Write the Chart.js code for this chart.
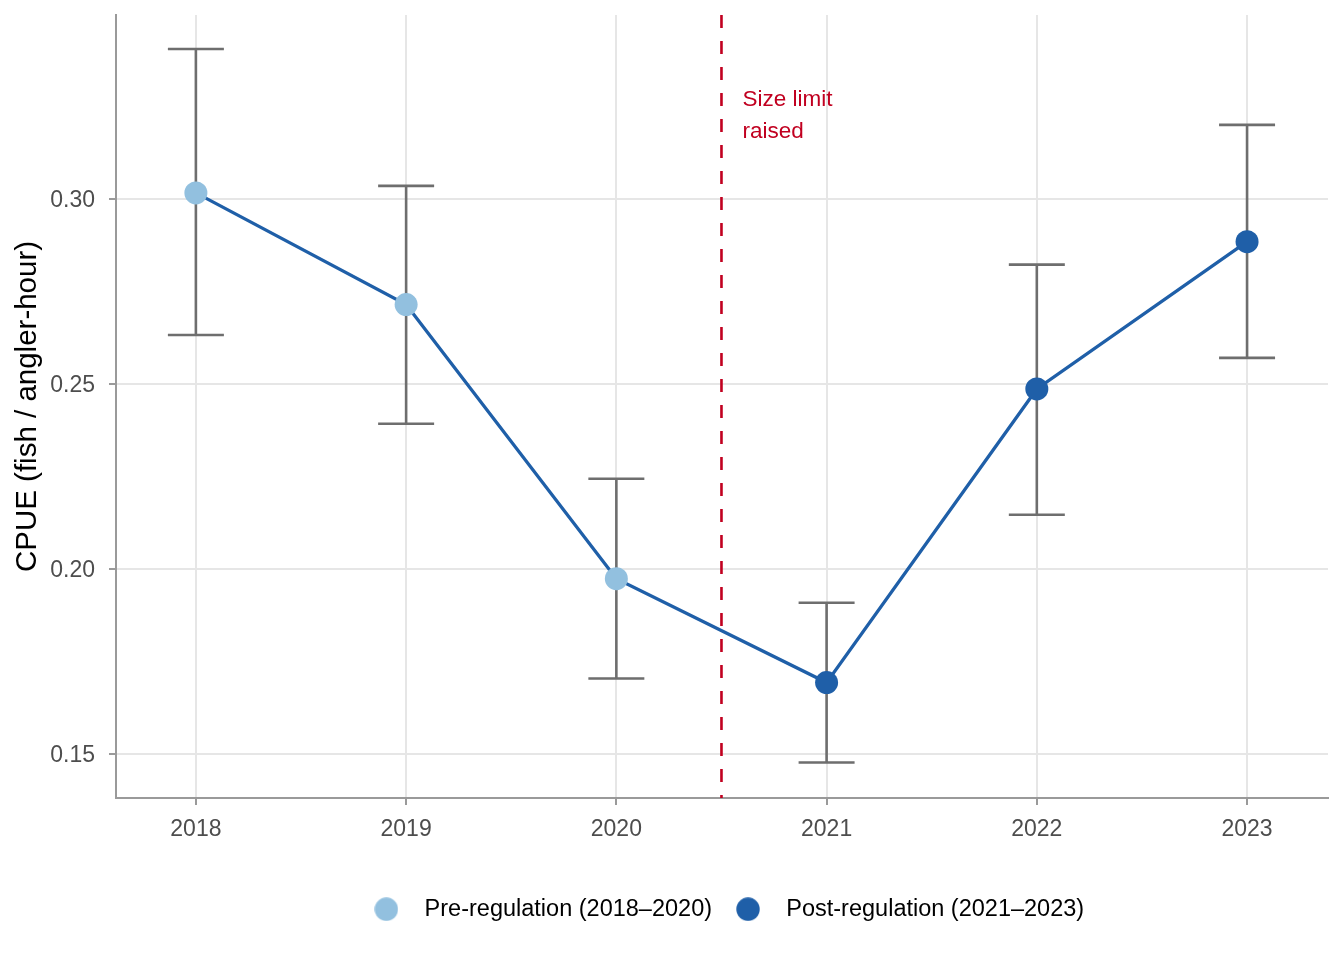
<!DOCTYPE html>
<html>
<head>
<meta charset="utf-8">
<script src="https://cdn.jsdelivr.net/npm/chart.js@4.4.0/dist/chart.umd.min.js"></script>
<style>
  html, body { margin: 0; padding: 0; background: #fff; }
  #wrap { width: 1344px; height: 960px; }
</style>
</head>
<body>
<div id="wrap"><canvas id="plot" width="1344" height="960"></canvas></div>
<script>
// data
const years = ['2018', '2019', '2020', '2021', '2022', '2023'];
const cpue = [0.3016, 0.2714, 0.1973, 0.1692, 0.2486, 0.2884];
const upper = [0.3405, 0.3035, 0.2243, 0.1908, 0.2822, 0.3200];
const lower = [0.2632, 0.2392, 0.1703, 0.1476, 0.2146, 0.2570];
const period = ['pre', 'pre', 'pre', 'post', 'post', 'post'];
const yTicks = [0.15, 0.20, 0.25, 0.30];
const regulationAt = 2.5; // between 2020 and 2021
const noteLines = ['Size limit', 'raised'];
const noteY = 0.3268;

const lightBlue = '#92C0DF';
const darkBlue = '#1F5FA8';
const red = '#C10020';
const font = '"Liberation Sans", Arial, sans-serif';

const prePts = [], postPts = [];
cpue.forEach((v, i) => {
    (period[i] === 'pre' ? prePts : postPts).push({ x: i, y: v });
});

// small canvas used as legend dot
function dot(color) {
    const c = document.createElement('canvas');
    c.width = 24; c.height = 24;
    const g = c.getContext('2d');
    g.fillStyle = color;
    g.beginPath();
    g.arc(12, 12, 11.7, 0, Math.PI * 2);
    g.fill();
    return c;
}

// error bars + regulation line + note
const extras = {
    id: 'extras',
    beforeDatasetsDraw(chart) {
        const { ctx, chartArea, scales: { x, y } } = chart;
        ctx.save();
        ctx.strokeStyle = '#6E6E6E';
        ctx.lineWidth = 2.6;
        cpue.forEach((v, i) => {
            const px = x.getPixelForValue(i);
            const top = y.getPixelForValue(upper[i]);
            const bot = y.getPixelForValue(lower[i]);
            ctx.beginPath();
            ctx.moveTo(px, top); ctx.lineTo(px, bot);
            ctx.moveTo(px - 28, top); ctx.lineTo(px + 28, top);
            ctx.moveTo(px - 28, bot); ctx.lineTo(px + 28, bot);
            ctx.stroke();
        });
        const rx = x.getPixelForValue(regulationAt);
        ctx.strokeStyle = red;
        ctx.lineWidth = 2.6;
        ctx.setLineDash([13, 13]);
        ctx.beginPath();
        ctx.moveTo(rx, chartArea.top);
        ctx.lineTo(rx, chartArea.bottom);
        ctx.stroke();
        ctx.setLineDash([]);
        ctx.fillStyle = red;
        ctx.font = '22.5px ' + font;
        ctx.textBaseline = 'middle';
        ctx.textAlign = 'left';
        const ny = y.getPixelForValue(noteY);
        noteLines.forEach((t, k) => ctx.fillText(t, rx + 21, ny + k * 32));
        ctx.restore();
    }
};

const ctx = document.getElementById('plot');
const plot = new Chart(ctx, {
    type: 'scatter',
    data: {
        datasets: [{
            label: 'line',
            data: cpue.map((v, i) => ({ x: i, y: v })),
            showLine: true,
            borderColor: darkBlue,
            borderWidth: 3.3,
            pointRadius: 0,
            order: 2
        }, {
            label: 'Pre-regulation (2018\u20132020)',
            data: prePts,
            backgroundColor: lightBlue,
            borderColor: lightBlue,
            pointRadius: 11.5,
            pointBorderWidth: 0,
            order: 1
        }, {
            label: 'Post-regulation (2021\u20132023)',
            data: postPts,
            backgroundColor: darkBlue,
            borderColor: darkBlue,
            pointRadius: 11.5,
            pointBorderWidth: 0,
            order: 1
        }]
    },
    options: {
        responsive: false,
        animation: false,
        layout: { padding: { left: 0, right: 16, top: 15, bottom: 29 } },
        plugins: {
            tooltip: { enabled: false },
            legend: {
                position: 'bottom',
                fullSize: false,
                labels: {
                    generateLabels: chart => Chart.defaults.plugins.legend.labels.generateLabels(chart)
                        .filter(l => l.text !== 'line')
                        .map(l => ({ ...l, pointStyle: dot(l.fillStyle) })),
                    usePointStyle: true,
                    pointStyleWidth: 53,
                    padding: 9.5,
                    color: '#000',
                    font: { family: font, size: 23.5 }
                }
            }
        },
        scales: {
            x: {
                type: 'linear',
                min: -0.38,
                max: 5.385,
                afterBuildTicks: s => { s.ticks = years.map((_, i) => ({ value: i })); },
                ticks: {
                    callback: v => years[v],
                    color: '#4D4D4D',
                    padding: 11,
                    font: { family: font, size: 23 }
                },
                grid: { color: '#E6E6E6', lineWidth: 2, tickColor: '#9A9A9A', tickLength: 7 },
                border: { color: '#9A9A9A', width: 2 },
                afterFit: s => { s.height = 90; s.paddingLeft = 0; s.paddingRight = 0; }
            },
            y: {
                min: 0.138,
                max: 0.3497,
                afterBuildTicks: s => { s.ticks = yTicks.map(v => ({ value: v })); },
                ticks: {
                    callback: v => v.toFixed(2),
                    color: '#4D4D4D',
                    padding: 14,
                    labelOffset: 2,
                    font: { family: font, size: 23 }
                },
                grid: { color: '#E6E6E6', lineWidth: 2, tickColor: '#9A9A9A', tickLength: 7 },
                border: { color: '#9A9A9A', width: 2 },
                title: {
                    display: true,
                    text: 'CPUE (fish / angler-hour)',
                    color: '#000',
                    padding: { top: 10, bottom: 0 },
                    font: { family: font, size: 29.5 }
                },
                afterFit: s => { s.width = 116; s.paddingTop = 0; s.paddingBottom = 0; }
            }
        }
    },
    plugins: [extras]
});
</script>
</body>
</html>
